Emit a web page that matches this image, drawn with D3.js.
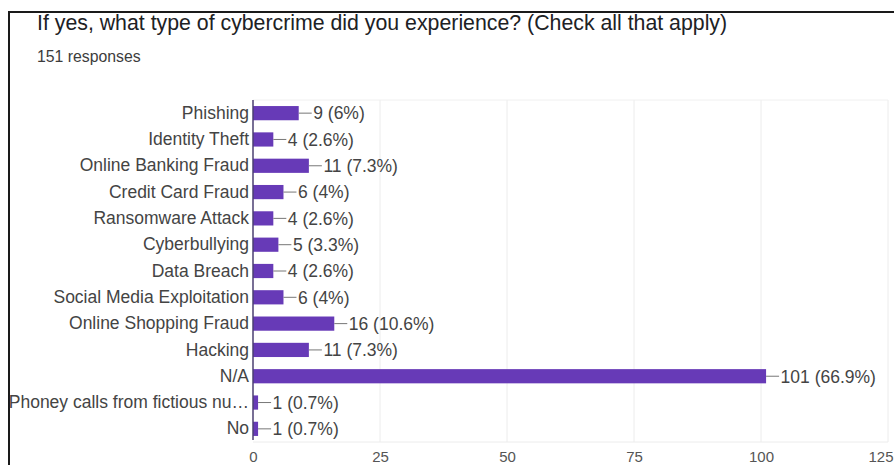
<!DOCTYPE html>
<html>
<head>
<meta charset="utf-8">
<script src="https://cdn.jsdelivr.net/npm/d3@7"></script>
<style>
  html, body { margin: 0; padding: 0; background: #fff; overflow: hidden; }
  svg { display: block; }
</style>
</head>
<body>
<svg id="chart" width="894" height="465"></svg>
<script>
// Survey answers: type of cybercrime experienced (multiple choice)
const categories = [
  "Phishing", "Identity Theft", "Online Banking Fraud", "Credit Card Fraud",
  "Ransomware Attack", "Cyberbullying", "Data Breach", "Social Media Exploitation",
  "Online Shopping Fraud", "Hacking", "N/A", "Phoney calls from fictious nu…", "No"
];
const counts = [9, 4, 11, 6, 4, 5, 4, 6, 16, 11, 101, 1, 1];
const percents = ["6%", "2.6%", "7.3%", "4%", "2.6%", "3.3%", "2.6%", "4%", "10.6%", "7.3%", "66.9%", "0.7%", "0.7%"];
const tickValues = [0, 25, 50, 75, 100, 125];
const titleText = "If yes, what type of cybercrime did you experience? (Check all that apply)";
const subtitleText = "151 responses";

const svg = d3.select("#chart");
const font = "'Liberation Sans', Arial, sans-serif";
const labelSize = 17.5;
const W = 894;

// frame lines
svg.append("line").attr("x1", 8).attr("x2", W).attr("y1", 12).attr("y2", 12)
  .attr("stroke", "#1a1a1a").attr("stroke-width", 2);
svg.append("line").attr("x1", 9).attr("x2", 9).attr("y1", 11).attr("y2", 465)
  .attr("stroke", "#1a1a1a").attr("stroke-width", 2);

// heading
svg.append("text").attr("x", 37).attr("y", 30)
  .attr("font-family", font).attr("font-size", 21.3).attr("fill", "#202124")
  .text(titleText);
svg.append("text").attr("x", 37).attr("y", 62)
  .attr("font-family", font).attr("font-size", 15.8).attr("fill", "#3c3c3c")
  .text(subtitleText);

const plot = { left: 253, right: 888, top: 100, bottom: 442 };

const x = d3.scaleLinear().domain([0, 125]).range([plot.left, plot.right]);
const y = d3.scaleBand().domain(categories).range([plot.top, plot.bottom]).paddingInner(0.46).paddingOuter(0.23);

// grid
const g = svg.append("g");
g.selectAll("line.grid").data(tickValues.slice(1)).join("line")
  .attr("class", "grid")
  .attr("x1", d => x(d)).attr("x2", d => x(d))
  .attr("y1", plot.top).attr("y2", plot.bottom)
  .attr("stroke", "#ececec").attr("stroke-width", 1);
g.append("line").attr("x1", plot.left).attr("x2", plot.right)
  .attr("y1", plot.top).attr("y2", plot.top).attr("stroke", "#f0f0f0");
g.append("line").attr("x1", plot.left).attr("x2", plot.right)
  .attr("y1", plot.bottom).attr("y2", plot.bottom).attr("stroke", "#ececec");

// bars
const rows = categories.map((c, i) => ({ cat: c, v: counts[i], p: percents[i] }));
g.selectAll("rect.bar").data(rows).join("rect")
  .attr("class", "bar")
  .attr("x", x(0))
  .attr("y", d => y(d.cat))
  .attr("width", d => x(d.v) - x(0))
  .attr("height", y.bandwidth())
  .attr("fill", "#673ab7");

// baseline
g.append("line").attr("x1", x(0)).attr("x2", x(0))
  .attr("y1", plot.top).attr("y2", plot.bottom - 2)
  .attr("stroke", "#4b3f72").attr("stroke-width", 1.5);

// value leaders and labels
g.selectAll("line.lead").data(rows).join("line")
  .attr("class", "lead")
  .attr("x1", d => x(d.v)).attr("x2", d => x(d.v) + 13)
  .attr("y1", d => y(d.cat) + y.bandwidth() / 2)
  .attr("y2", d => y(d.cat) + y.bandwidth() / 2)
  .attr("stroke", "#777").attr("stroke-width", 1);
g.selectAll("text.val").data(rows).join("text")
  .attr("class", "val")
  .attr("x", d => x(d.v) + 14.5)
  .attr("y", d => y(d.cat) + y.bandwidth() / 2)
  .attr("dy", "0.36em")
  .attr("font-family", font).attr("font-size", labelSize).attr("fill", "#444")
  .text(d => `${d.v} (${d.p})`);

// category axis
const yAxis = d3.axisLeft(y).tickSize(0).tickPadding(4);
const ya = svg.append("g").attr("transform", `translate(${plot.left},0)`).call(yAxis);
ya.select(".domain").remove();
ya.selectAll("text").attr("font-family", font).attr("font-size", labelSize).attr("fill", "#444");

// value axis (labels sit at the very bottom edge)
const xAxis = d3.axisBottom(x).tickValues(tickValues).tickSize(0).tickPadding(9);
const xa = svg.append("g").attr("transform", `translate(0,${plot.bottom})`).call(xAxis);
xa.select(".domain").remove();
xa.selectAll("text").attr("font-family", font).attr("font-size", 15).attr("fill", "#555");
// keep the last tick label inside the right edge
xa.selectAll(".tick").filter(d => d === tickValues[tickValues.length - 1]).select("text")
  .attr("text-anchor", "end").attr("x", W - 1 - x(tickValues[tickValues.length - 1]));
</script>
</body>
</html>
